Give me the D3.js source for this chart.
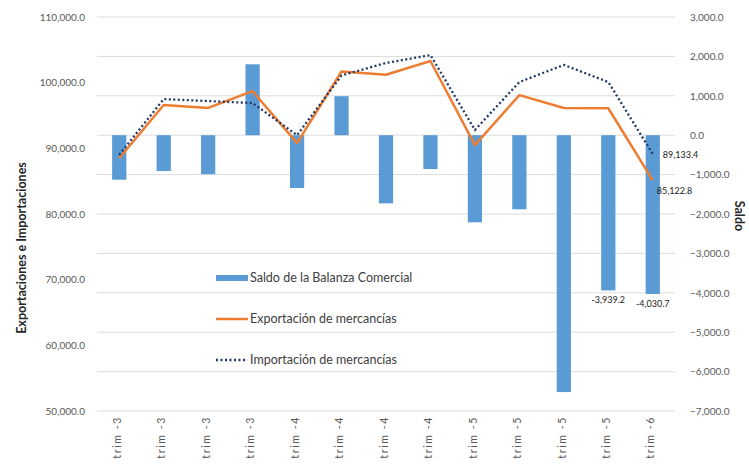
<!DOCTYPE html>
<meta charset="utf-8">

<!-- Load d3.js -->
<script src="https://d3js.org/d3.v7.min.js"></script>

<style>
body {
  margin: 0;
  background: #fff;
}
svg {
  font-family: Lato, "Liberation Sans", sans-serif;
}
</style>

<div id="my_dataviz"></div>

<script>

// chart data
var periods = ["trim -3", "trim -3", "trim -3", "trim -3", "trim -4", "trim -4", "trim -4",
               "trim -4", "trim -5", "trim -5", "trim -5", "trim -5", "trim -6"];
var saldo = [-1130, -910, -990, 1800, -1340, 990, -1730, -860, -2210, -1880, -6520, -3939.2, -4030.7];
var exportaciones = [88500, 96600, 96150, 98700, 90800, 101700, 101200, 103300, 90500, 98100, 96150, 96100, 85122.8];
var importaciones = [89000, 97500, 97200, 96900, 92000, 101100, 103000, 104200, 92800, 100100, 102700, 100100, 89133.4];

var leftTicks = [50000, 60000, 70000, 80000, 90000, 100000, 110000];
var rightTicks = [-7000, -6000, -5000, -4000, -3000, -2000, -1000, 0, 1000, 2000, 3000];
var seriesNames = ["Saldo de la Balanza Comercial", "Exportación de mercancías", "Importación de mercancías"];

// point labels only shown on a few points
var saldoLabels = {11: "-3,939.2", 12: "-4,030.7"};

var width = 749,
    height = 468,
    plot = {left: 97, right: 675, top: 17, bottom: 411};

var svg = d3.select("#my_dataviz")
  .append("svg")
    .attr("width", width)
    .attr("height", height);

var fmt = d3.format(",.1f");

// scales
var x = d3.scaleBand()
  .domain(d3.range(periods.length))
  .range([plot.left, plot.right])
  .paddingInner(0.68)
  .paddingOuter(0.34);

var yL = d3.scaleLinear()
  .domain([50000, 110000])
  .range([plot.bottom, plot.top]);

var yR = d3.scaleLinear()
  .domain([-7000, 3000])
  .range([plot.bottom, plot.top]);

// gridlines
svg.append("g")
  .selectAll("line")
  .data(rightTicks)
  .enter()
  .append("line")
    .attr("x1", plot.left)
    .attr("x2", plot.right)
    .attr("y1", function(d) { return yR(d); })
    .attr("y2", function(d) { return yR(d); })
    .attr("stroke", "#dcdcdc")
    .attr("stroke-width", 1);

// left axis
svg.append("g")
  .attr("transform", "translate(" + plot.left + ",0)")
  .call(d3.axisLeft(yL).tickValues(leftTicks).tickFormat(fmt).tickSize(0).tickPadding(12))
  .call(function(g) { g.select(".domain").remove(); })
  .selectAll("text")
    .style("font-size", "10px")
    .style("font-family", "Lato, sans-serif")
    .attr("fill", "#595959");

// right axis
svg.append("g")
  .attr("transform", "translate(" + plot.right + ",0)")
  .call(d3.axisRight(yR).tickValues(rightTicks).tickFormat(fmt).tickSize(0).tickPadding(15))
  .call(function(g) { g.select(".domain").remove(); })
  .selectAll("text")
    .style("font-size", "10px")
    .style("font-family", "Lato, sans-serif")
    .attr("fill", "#595959");

// bottom axis
svg.append("g")
  .attr("transform", "translate(0," + plot.bottom + ")")
  .call(d3.axisBottom(x).tickFormat(function(i) { return periods[i]; }).tickSize(0))
  .call(function(g) { g.select(".domain").remove(); })
  .selectAll("text")
    .attr("transform", "rotate(-90)")
    .attr("x", -5)
    .attr("y", -2)
    .attr("dy", "0.35em")
    .style("text-anchor", "end")
    .style("font-size", "10.5px")
    .style("letter-spacing", "1.6px")
    .style("font-family", "Lato, sans-serif")
    .attr("fill", "#595959");

// axis titles
svg.append("text")
  .attr("transform", "translate(22,248) rotate(-90)")
  .attr("text-anchor", "middle")
  .attr("dy", "0.35em")
  .style("font-size", "12.5px")
  .style("font-weight", "bold")
  .attr("fill", "#262626")
  .text("Exportaciones e Importaciones");

svg.append("text")
  .attr("transform", "translate(739,216) rotate(90)")
  .attr("text-anchor", "middle")
  .attr("dy", "0.35em")
  .style("font-size", "12.5px")
  .style("font-weight", "bold")
  .attr("fill", "#262626")
  .text("Saldo");

// bars
svg.append("g")
  .selectAll("rect")
  .data(saldo)
  .enter()
  .append("rect")
    .attr("x", function(d, i) { return x(i); })
    .attr("y", function(d) { return yR(Math.max(0, d)); })
    .attr("width", x.bandwidth())
    .attr("height", function(d) { return Math.abs(yR(d) - yR(0)); })
    .attr("fill", "#5b9bd5");

var cx = function(d, i) { return x(i) + x.bandwidth() / 2; };

// export line
svg.append("path")
  .datum(exportaciones)
  .attr("fill", "none")
  .attr("stroke", "#ed7d31")
  .attr("stroke-width", 2.5)
  .attr("stroke-linejoin", "round")
  .attr("d", d3.line().x(cx).y(function(d) { return yL(d); }));

// import line
svg.append("path")
  .datum(importaciones)
  .attr("fill", "none")
  .attr("stroke", "#203864")
  .attr("stroke-width", 2.3)
  .attr("stroke-dasharray", "2,2.5")
  .attr("d", d3.line().x(cx).y(function(d) { return yL(d); }));

// data labels
var last = periods.length - 1;
svg.append("text")
  .attr("x", cx(null, last) + 10)
  .attr("y", yL(importaciones[last]) + 4)
  .style("font-size", "9px")
  .attr("fill", "#1a1a1a")
  .text(fmt(importaciones[last]));

svg.append("text")
  .attr("x", cx(null, last) + 4)
  .attr("y", yL(exportaciones[last]) + 14)
  .style("font-size", "9px")
  .attr("fill", "#1a1a1a")
  .text(fmt(exportaciones[last]));

Object.keys(saldoLabels).forEach(function(k) {
  var i = +k;
  svg.append("text")
    .attr("x", cx(null, i))
    .attr("y", yR(saldo[i]) + 13)
    .attr("text-anchor", "middle")
    .style("font-size", "9px")
    .attr("fill", "#1a1a1a")
    .text(saldoLabels[k]);
});

// legend
var legend = svg.append("g").attr("transform", "translate(216,278)");
var rowGap = 41;

legend.append("rect")
  .attr("x", 0).attr("y", -3)
  .attr("width", 32).attr("height", 6)
  .attr("fill", "#5b9bd5");

legend.append("line")
  .attr("x1", 0).attr("x2", 32)
  .attr("y1", rowGap).attr("y2", rowGap)
  .attr("stroke", "#ed7d31").attr("stroke-width", 2.5);

legend.append("line")
  .attr("x1", 0).attr("x2", 30)
  .attr("y1", rowGap * 2).attr("y2", rowGap * 2)
  .attr("stroke", "#203864").attr("stroke-width", 2.3)
  .attr("stroke-dasharray", "2,2.5");

legend.selectAll("text.lab")
  .data(seriesNames)
  .enter()
  .append("text")
    .attr("class", "lab")
    .attr("x", 34)
    .attr("y", function(d, i) { return i * rowGap; })
    .attr("dy", "0.35em")
    .style("font-size", "12.5px")
    .attr("fill", "#404040")
    .text(function(d) { return d; });

</script>
